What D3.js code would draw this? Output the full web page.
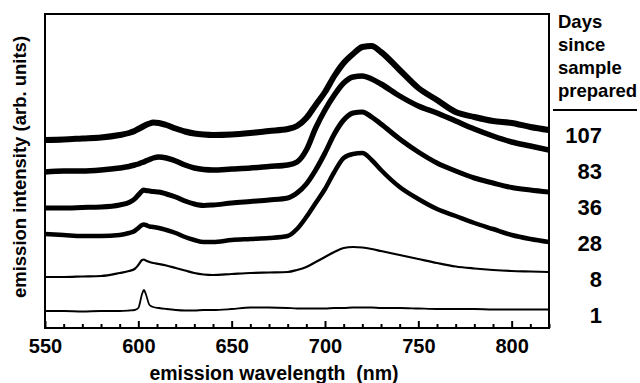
<!DOCTYPE html>
<html>
<head>
<meta charset="utf-8">
<script src="https://cdn.jsdelivr.net/npm/d3@7"></script>
<style>
  body { margin: 0; background: #fff; }
  svg { display: block; font-family: "Liberation Sans", Arial, sans-serif; font-weight: bold; }
</style>
</head>
<body>
<svg id="chart" width="640" height="383"></svg>
<script>
// wavelength grid (nm)
const wavelengths = [550, 560, 570, 580, 590, 595, 598, 600, 602, 603, 604, 606, 608, 611, 615, 620, 625, 630, 635, 640,
  650, 660, 670, 680, 685, 690, 695, 700, 705, 710, 715, 720, 725, 730, 740, 750, 760, 770, 780, 790, 800, 810, 820];

// stacked spectra, arb. units
const day1 = [17, 17, 16.5, 17, 17, 17.5, 18, 20, 34, 38, 34, 23, 21, 20, 19, 18, 17.5, 17.5, 18, 18,
  19, 20.5, 20.5, 20, 19.5, 19.5, 19.5, 19.5, 20, 20, 20.5, 20.5, 20.5, 20, 20, 19.5, 19, 19, 19, 18.5, 18.5, 18.5, 18.5];
const day8 = [51, 51, 51.5, 52, 55, 57, 59, 63, 68, 68.5, 67.5, 66, 65, 64, 62.5, 60, 57.5, 55, 53.5, 53,
  54, 55, 55.5, 56, 58, 61, 66, 71, 76, 80, 81, 80.5, 79, 77, 73, 69, 65, 61.5, 59.5, 58, 57, 56.5, 56];
const day28 = [94, 93, 92, 92, 93, 95, 97, 100, 103, 103.5, 103, 101.5, 101, 100, 98, 95, 91, 88, 86, 86,
  88, 89, 90, 92, 99, 111, 125, 139, 156, 170, 174, 175, 168, 158, 141, 129, 119, 112, 105, 99, 93, 89, 86];
const day36 = [120, 120, 120.5, 121, 123, 125.5, 129, 133, 137, 138, 137.5, 137, 136.5, 136, 134, 131, 127, 124, 122.5, 123,
  125, 126.5, 128, 130, 135, 144, 158, 175, 194, 208, 215, 216, 211, 204, 189, 176, 165, 157, 150, 145, 140.5, 138, 136];
const day83 = [156, 157, 157, 158, 160, 161.5, 163, 164, 165.5, 166, 167, 168.5, 170, 171, 170, 167, 163, 160, 158.5, 158,
  159, 160, 161.5, 163, 166, 178, 200, 218, 233, 245, 251, 252, 249, 244, 232, 222, 215, 207, 199, 192, 186, 182, 178];
const day107 = [188, 188.5, 189.5, 190.5, 193, 195, 197, 199, 201, 202, 203, 204.5, 205.5, 205, 203, 199.5, 196.5, 194.5, 193.5, 193,
  193.5, 195, 197, 199, 202, 210, 223, 236, 252, 265, 274, 281, 282, 276, 258, 240, 228, 216, 211, 207, 205, 201, 198];

const dayLabels = ["107", "83", "36", "28", "8", "1"];
const majorTicks = [550, 600, 650, 700, 750, 800];
const minorTicks = d3.range(560, 821, 10).filter(v => v % 50 !== 0);
const legendTitle = ["Days", "since", "sample", "prepared"];

const series = [
  { day: "107", values: day107, width: 6 },
  { day: "83", values: day83, width: 5.5 },
  { day: "36", values: day36, width: 5 },
  { day: "28", values: day28, width: 4.5 },
  { day: "8", values: day8, width: 2.2 },
  { day: "1", values: day1, width: 1.8 }
];

const svg = d3.select("#chart");
const plot = { left: 45, right: 549, top: 14, bottom: 328 };

const x = d3.scaleLinear().domain([550, 820]).range([plot.left, plot.right]);
const y = d3.scaleLinear().domain([0, 314]).range([plot.bottom, plot.top]);

svg.append("clipPath").attr("id", "clip")
  .append("rect")
  .attr("x", plot.left).attr("y", plot.top)
  .attr("width", plot.right - plot.left).attr("height", plot.bottom - plot.top);

const line = d3.line()
  .x((d, i) => x(wavelengths[i]))
  .y(d => y(d))
  .curve(d3.curveMonotoneX);

svg.append("g").attr("clip-path", "url(#clip)")
  .selectAll("path")
  .data(series)
  .join("path")
  .attr("d", d => line(d.values))
  .attr("fill", "none")
  .attr("stroke", "#000")
  .attr("stroke-width", d => d.width)
  .attr("stroke-linejoin", "round");

// minor ticks (inward)
svg.append("g")
  .attr("transform", `translate(0,${plot.bottom})`)
  .call(d3.axisBottom(x).tickValues(minorTicks).tickSize(-4).tickFormat(""))
  .call(g => g.select(".domain").remove())
  .call(g => g.selectAll("line").attr("stroke-width", 2));

// major ticks + labels
svg.append("g")
  .attr("transform", `translate(0,${plot.bottom})`)
  .call(d3.axisBottom(x).tickValues(majorTicks).tickSize(-7).tickPadding(11).tickFormat(d3.format("d")))
  .call(g => g.select(".domain").remove())
  .call(g => g.selectAll("line").attr("stroke-width", 2))
  .call(g => g.selectAll("text")
    .attr("fill", "#000")
    .style("font-size", "20px")
    .style("font-weight", "bold")
    .style("font-family", '"Liberation Sans", Arial, sans-serif'));

// frame
svg.append("rect")
  .attr("x", plot.left).attr("y", plot.top)
  .attr("width", plot.right - plot.left).attr("height", plot.bottom - plot.top)
  .attr("fill", "none").attr("stroke", "#000").attr("stroke-width", 2);

// axis titles
svg.append("text")
  .attr("x", 274).attr("y", 380)
  .attr("text-anchor", "middle")
  .style("font-size", "19.5px")
  .text("emission wavelength\u00a0 (nm)");

svg.append("text")
  .attr("transform", "translate(26,167) rotate(-90)")
  .attr("text-anchor", "middle")
  .style("font-size", "18.5px")
  .text("emission intensity (arb. units)");

// legend
svg.append("g")
  .selectAll("text")
  .data(legendTitle)
  .join("text")
  .attr("x", 558)
  .attr("y", (d, i) => 28 + i * 23)
  .style("font-size", "18.5px")
  .text(d => d);

svg.append("line")
  .attr("x1", 553).attr("x2", 637)
  .attr("y1", 110).attr("y2", 110)
  .attr("stroke", "#000").attr("stroke-width", 2);

svg.append("g")
  .selectAll("text")
  .data(dayLabels)
  .join("text")
  .attr("x", 602)
  .attr("y", (d, i) => 143 + i * 36)
  .attr("text-anchor", "end")
  .style("font-size", "22px")
  .text(d => d);
</script>
</body>
</html>
